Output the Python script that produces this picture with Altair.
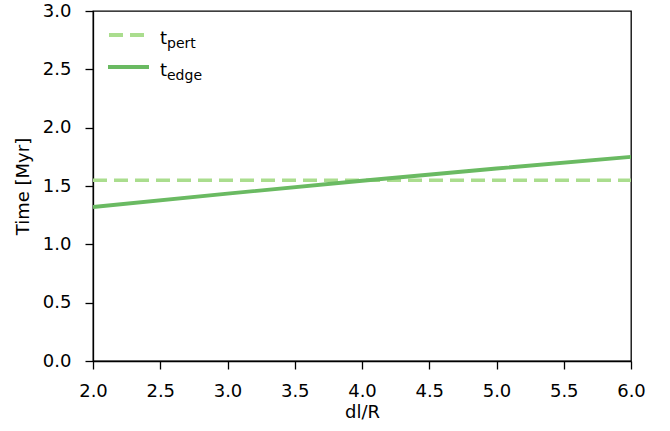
import altair as alt
import pandas as pd

# Separation dl/R and the two timescales (Myr)
dl_over_r = [2.0, 3.0, 4.0, 5.0, 6.0]
t_pert = [1.55, 1.55, 1.55, 1.55, 1.55]
t_edge = [1.32, 1.435, 1.545, 1.65, 1.75]

legend_subscripts = ["pert", "edge"]

C_PERT = "#aadd8e"
C_EDGE = "#6aba62"
FONT = "DejaVu Sans"

df = pd.DataFrame({"x": dl_over_r, "pert": t_pert, "edge": t_edge})

x_enc = alt.X(
    "x:Q",
    scale=alt.Scale(domain=[2.0, 6.0], nice=False, zero=False),
    axis=alt.Axis(
        title="dl/R", values=[2.0, 2.5, 3.0, 3.5, 4.0, 4.5, 5.0, 5.5, 6.0],
        format=".1f", titleY=51, titleBaseline="middle",
        labelFlush=False, labelOverlap=False, labelPadding=13,
    ),
)
y_axis = alt.Axis(
    title="Time [Myr]", values=[0.0, 0.5, 1.0, 1.5, 2.0, 2.5, 3.0],
    format=".1f", titleX=-70, titleY=175, titleAngle=-90,
    titleAlign="center", titleBaseline="middle",
    labelFlush=False, labelOverlap=False, labelPadding=14,
)
y_scale = alt.Scale(domain=[0.0, 3.0], nice=False)

pert_line = alt.Chart(df).mark_line(
    color=C_PERT, strokeWidth=3.5, strokeDash=[14, 7], clip=True
).encode(x=x_enc, y=alt.Y("pert:Q", scale=y_scale, axis=y_axis))

edge_line = alt.Chart(df).mark_line(
    color=C_EDGE, strokeWidth=3.8, clip=True
).encode(x=x_enc, y=alt.Y("edge:Q", scale=y_scale))

# Legend box drawn in the upper-left corner of the plot
leg_pert = alt.Chart(df).mark_rule(
    color=C_PERT, strokeWidth=3.5, strokeDash=[14, 7]
).encode(x=alt.value(16), x2=alt.value(56), y=alt.value(24))
leg_edge = alt.Chart(df).mark_rule(
    color=C_EDGE, strokeWidth=3.8
).encode(x=alt.value(15), x2=alt.value(56), y=alt.value(56))

leg_df = pd.DataFrame({"sub": legend_subscripts, "ypos": [33, 65]})
leg_t = alt.Chart(leg_df).mark_text(
    text="t", font=FONT, fontSize=18, align="left", baseline="alphabetic"
).encode(x=alt.value(67), y=alt.Y("ypos:Q", scale=None))
leg_sub = alt.Chart(leg_df).mark_text(
    font=FONT, fontSize=14, align="left", baseline="alphabetic", dy=4
).encode(x=alt.value(74), y=alt.Y("ypos:Q", scale=None), text="sub:N")

chart = alt.layer(
    pert_line, edge_line, leg_pert, leg_edge, leg_t, leg_sub
).properties(
    width=538, height=350,
    autosize=alt.AutoSizeParams(type="none"),
    padding={"left": 93, "top": 11, "right": 39, "bottom": 70},
).configure_view(
    stroke="black", strokeWidth=1.3
).configure_axis(
    grid=False, domain=True, domainColor="black", domainWidth=1.3,
    tickColor="black", tickWidth=1.3, tickSize=8,
    labelFont=FONT, labelFontSize=18, labelColor="black",
    titleFont=FONT, titleFontSize=18, titleFontWeight="normal", titleColor="black",
)

chart.save("out.html", embed_options={"renderer": "svg", "actions": False})
